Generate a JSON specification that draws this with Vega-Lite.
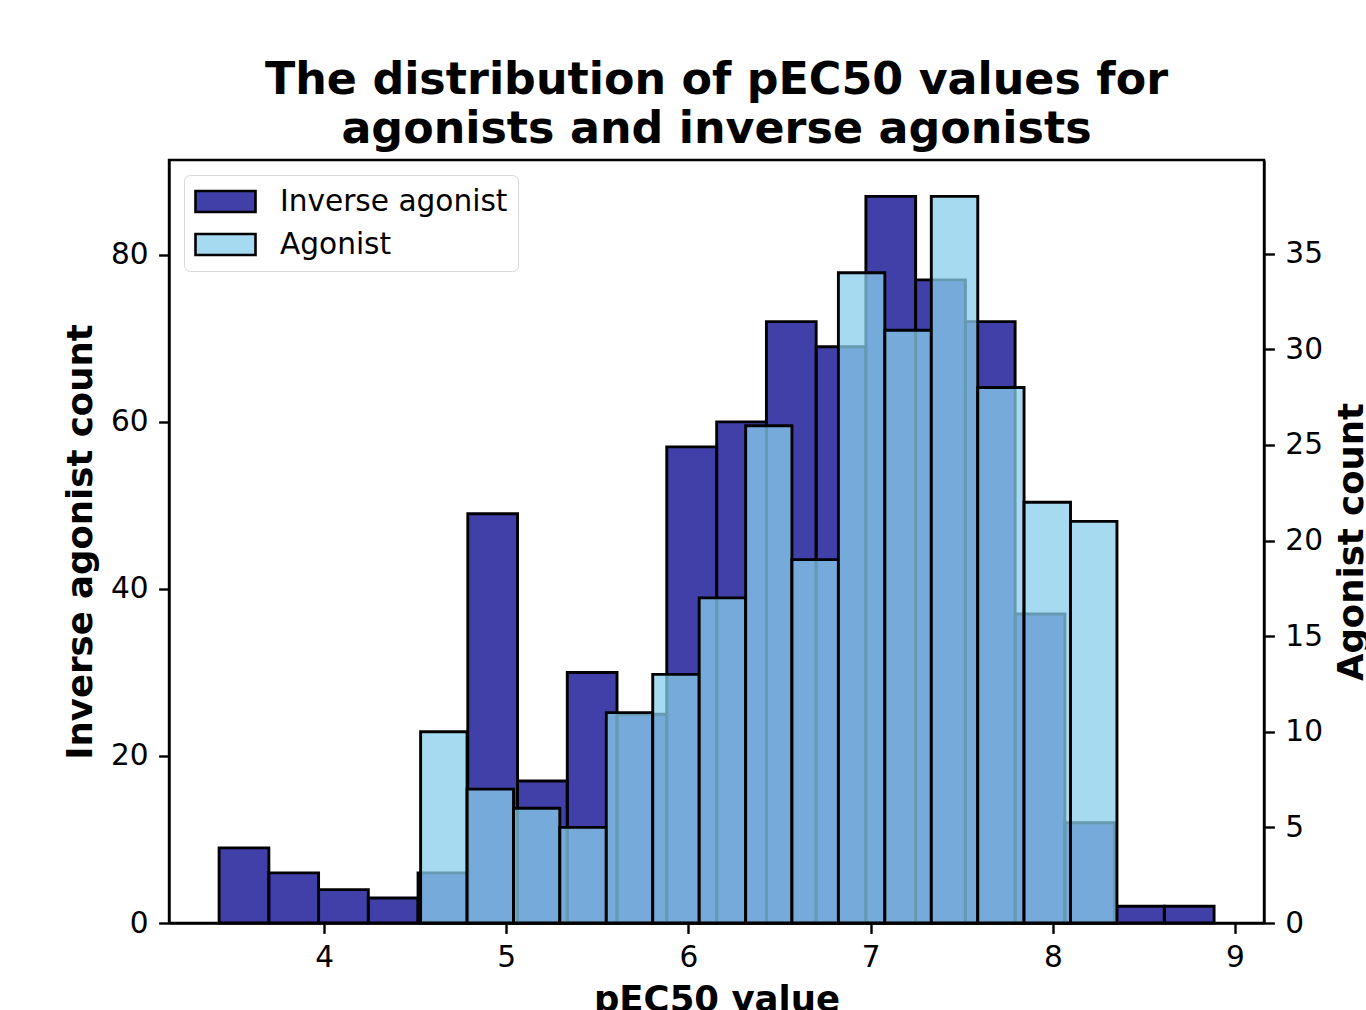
{
  "$schema": "https://vega.github.io/schema/vega-lite/v6.json",
  "width": 1095,
  "height": 763,
  "autosize": {"type": "none"},
  "padding": {"left": 169, "top": 160, "right": 102, "bottom": 87},
  "background": "white",
  "config": {
    "font": "DejaVu Sans",
    "view": {"stroke": "black", "strokeWidth": 2.4},
    "axis": {
      "domainColor": "black", "domainWidth": 2.4,
      "tickColor": "black", "tickWidth": 2.4, "tickSize": 10.4,
      "labelFontSize": 29.6, "labelColor": "black", "labelPadding": 10.4,
      "labelFont": "DejaVu Sans", "titleFont": "DejaVu Sans",
      "titleFontSize": 35.5, "titleFontWeight": "bold", "titleColor": "black",
      "grid": false
    }
  },
  "title": {
    "text": ["The distribution of pEC50 values for\u00a0", "\u00a0agonists and inverse agonists"],
    "fontSize": 44.4, "fontWeight": "bold", "font": "DejaVu Sans", "color": "black",
    "anchor": "middle", "frame": "group", "lineHeight": 48.4, "offset": 8
  },
  "data": {
    "values": [
      {"series": "Inverse agonist", "bin_start": 3.424, "bin_end": 3.697, "count": 9},
      {"series": "Inverse agonist", "bin_start": 3.697, "bin_end": 3.970, "count": 6},
      {"series": "Inverse agonist", "bin_start": 3.970, "bin_end": 4.243, "count": 4},
      {"series": "Inverse agonist", "bin_start": 4.243, "bin_end": 4.516, "count": 3},
      {"series": "Inverse agonist", "bin_start": 4.516, "bin_end": 4.789, "count": 6},
      {"series": "Inverse agonist", "bin_start": 4.789, "bin_end": 5.062, "count": 49},
      {"series": "Inverse agonist", "bin_start": 5.062, "bin_end": 5.335, "count": 17},
      {"series": "Inverse agonist", "bin_start": 5.335, "bin_end": 5.608, "count": 30},
      {"series": "Inverse agonist", "bin_start": 5.608, "bin_end": 5.881, "count": 25},
      {"series": "Inverse agonist", "bin_start": 5.881, "bin_end": 6.155, "count": 57},
      {"series": "Inverse agonist", "bin_start": 6.155, "bin_end": 6.428, "count": 60},
      {"series": "Inverse agonist", "bin_start": 6.428, "bin_end": 6.701, "count": 72},
      {"series": "Inverse agonist", "bin_start": 6.701, "bin_end": 6.974, "count": 69},
      {"series": "Inverse agonist", "bin_start": 6.974, "bin_end": 7.247, "count": 87},
      {"series": "Inverse agonist", "bin_start": 7.247, "bin_end": 7.520, "count": 77},
      {"series": "Inverse agonist", "bin_start": 7.520, "bin_end": 7.793, "count": 72},
      {"series": "Inverse agonist", "bin_start": 7.793, "bin_end": 8.066, "count": 37},
      {"series": "Inverse agonist", "bin_start": 8.066, "bin_end": 8.339, "count": 12},
      {"series": "Inverse agonist", "bin_start": 8.339, "bin_end": 8.612, "count": 2},
      {"series": "Inverse agonist", "bin_start": 8.612, "bin_end": 8.885, "count": 2},
      {"series": "Agonist", "bin_start": 4.530, "bin_end": 4.785, "count": 10},
      {"series": "Agonist", "bin_start": 4.785, "bin_end": 5.040, "count": 7},
      {"series": "Agonist", "bin_start": 5.040, "bin_end": 5.294, "count": 6},
      {"series": "Agonist", "bin_start": 5.294, "bin_end": 5.549, "count": 5},
      {"series": "Agonist", "bin_start": 5.549, "bin_end": 5.804, "count": 11},
      {"series": "Agonist", "bin_start": 5.804, "bin_end": 6.059, "count": 13},
      {"series": "Agonist", "bin_start": 6.059, "bin_end": 6.314, "count": 17},
      {"series": "Agonist", "bin_start": 6.314, "bin_end": 6.568, "count": 26},
      {"series": "Agonist", "bin_start": 6.568, "bin_end": 6.823, "count": 19},
      {"series": "Agonist", "bin_start": 6.823, "bin_end": 7.078, "count": 34},
      {"series": "Agonist", "bin_start": 7.078, "bin_end": 7.333, "count": 31},
      {"series": "Agonist", "bin_start": 7.333, "bin_end": 7.588, "count": 38},
      {"series": "Agonist", "bin_start": 7.588, "bin_end": 7.842, "count": 28},
      {"series": "Agonist", "bin_start": 7.842, "bin_end": 8.097, "count": 22},
      {"series": "Agonist", "bin_start": 8.097, "bin_end": 8.352, "count": 21}
    ]
  },
  "layer": [
    {
      "transform": [{"filter": "datum.series === 'Inverse agonist'"}],
      "mark": {"type": "bar", "stroke": "black", "strokeWidth": 2.9},
      "encoding": {
        "x": {
          "field": "bin_start", "type": "quantitative",
          "scale": {"domain": [3.149, 9.159], "nice": false, "zero": false},
          "axis": {"values": [4, 5, 6, 7, 8, 9], "format": "d", "title": "pEC50 value", "titlePadding": 10}
        },
        "x2": {"field": "bin_end"},
        "y": {
          "field": "count", "type": "quantitative",
          "scale": {"domain": [0, 91.35], "nice": false},
          "axis": {"orient": "left", "values": [0, 20, 40, 60, 80], "title": "Inverse agonist count", "titlePadding": 12}
        },
        "y2": {"datum": 0},
        "color": {
          "field": "series", "type": "nominal",
          "scale": {"domain": ["Inverse agonist", "Agonist"], "range": ["rgba(0,0,139,0.75)", "rgba(135,206,235,0.75)"]},
          "legend": {
            "title": null, "orient": "top-left", "offset": 15, "padding": 10,
            "fillColor": "white", "strokeColor": "#d6d6d6", "cornerRadius": 6,
            "symbolType": "M-1,-0.7H3V0.7H-1Z", "symbolSize": 900,
            "symbolStrokeColor": "black", "symbolStrokeWidth": 2.6,
            "labelFontSize": 29.6, "labelColor": "black", "labelFont": "DejaVu Sans",
            "labelLimit": 500, "labelOffset": 53, "rowPadding": 10
          }
        }
      }
    },
    {
      "transform": [{"filter": "datum.series === 'Agonist'"}],
      "mark": {"type": "bar", "stroke": "black", "strokeWidth": 2.9},
      "encoding": {
        "x": {"field": "bin_start", "type": "quantitative"},
        "x2": {"field": "bin_end"},
        "y": {
          "field": "count", "type": "quantitative",
          "scale": {"domain": [0, 39.9], "nice": false},
          "axis": {"orient": "right", "values": [0, 5, 10, 15, 20, 25, 30, 35], "title": "Agonist count", "titleAngle": 270, "titleBaseline": "top", "titlePadding": 12}
        },
        "y2": {"datum": 0},
        "color": {"field": "series", "type": "nominal"}
      }
    }
  ],
  "resolve": {"scale": {"y": "independent"}, "axis": {"y": "independent"}}
}
